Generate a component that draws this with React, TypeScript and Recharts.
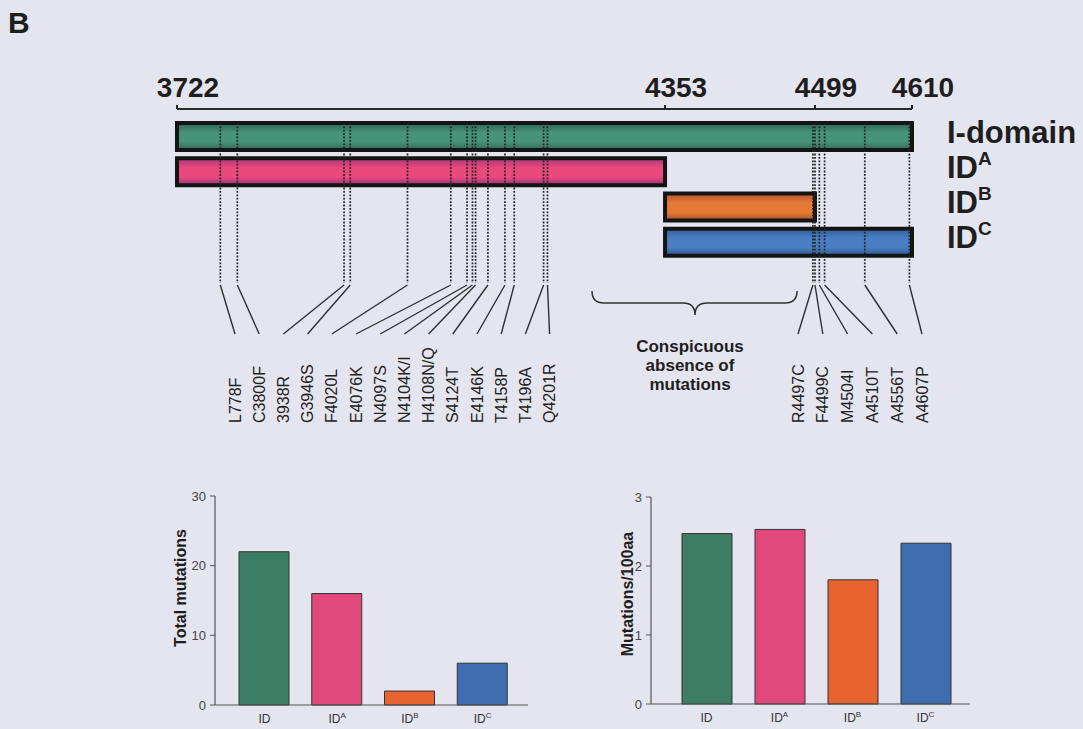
import React from 'react';
import * as Recharts from 'recharts';

const { BarChart, Bar, XAxis, YAxis, Cell } = Recharts;
// newer recharts paints series in z-index layers; put the map annotations above the bars
const ZLayer: any = (Recharts as any).ZIndexLayer;

const FONT = 'Arial, "Liberation Sans", Helvetica, sans-serif';
const PAGE_BG = '#e5e5f0';
const INK = '#1e1e1e';

// I-domain and its three sub-domains (residue numbers)
const domainKeys = ['I-domain', 'IDA', 'IDB', 'IDC'];
const domainBase = ['I-domain', 'ID', 'ID', 'ID'];
const domainSup = ['', 'A', 'B', 'C'];
const domainStart = [3722, 3722, 4353, 4353];
const domainEnd = [4610, 4353, 4499, 4610];
const boundaryTicks = [3722, 4353, 4499, 4610];

// mutations, N-terminal cluster and C-terminal cluster
const leftMutationLabels = ['L778F', 'C3800F', '3938R', 'G3946S', 'F4020L', 'E4076K', 'N4097S', 'N4104K/I', 'H4108N/Q', 'S4124T', 'E4146K', 'T4158P', 'T4196A', 'Q4201R'];
const leftMutationResidues = [3778, 3800, 3938, 3946, 4020, 4076, 4097, 4104, 4108, 4124, 4146, 4158, 4196, 4201];
const rightMutationLabels = ['R4497C', 'F4499C', 'M4504I', 'A4510T', 'A4556T', 'A4607P'];
const rightMutationResidues = [4497, 4499, 4504, 4510, 4556, 4607];

// bar charts
const groupKeys = ['ID', 'IDA', 'IDB', 'IDC'];
const groupSup = ['', 'A', 'B', 'C'];
const totalMutations = [22, 16, 2, 6];
const mutationsPer100aa = [2.47, 2.53, 1.8, 2.33];
const totalTicks = [0, 10, 20, 30];
const densityTicks = [0, 1, 2, 3];

const groupColors = ['#3e7d65', '#e1487b', '#e8632f', '#3f6db0'];
// edge / middle / edge shades for the tube look of the map bars
const tubeShades = [
  ['#2c6453', '#47937a', '#2f6656'],
  ['#a8367a', '#e9497c', '#963576'],
  ['#b8562a', '#e57a37', '#a94f27'],
  ['#2f5f9c', '#4a7ec2', '#2c5890'],
];

// the map is schematic: boundaries sit at fixed fractions of the bar length
const boundaryFractions = [0, 0.664, 0.868, 1];

function schematicScale(knots: number[], fracs: number[]): any {
  let dom = [knots[0], knots[knots.length - 1]];
  let rng = [0, 1];
  const scale: any = (v: number) => {
    let i = 0;
    while (i < knots.length - 2 && v > knots[i + 1]) i++;
    const t = (v - knots[i]) / (knots[i + 1] - knots[i]);
    const f = fracs[i] + t * (fracs[i + 1] - fracs[i]);
    return rng[0] + f * (rng[1] - rng[0]);
  };
  scale.domain = (d?: number[]) => {
    if (!d) return dom.slice();
    dom = d.slice();
    return scale;
  };
  scale.range = (r?: number[]) => {
    if (!r) return rng.slice();
    rng = r.slice();
    return scale;
  };
  scale.copy = () => schematicScale(knots, fracs).domain(dom).range(rng);
  scale.ticks = () => knots.slice();
  return scale;
}

const mapScale = schematicScale(boundaryTicks, boundaryFractions);

const MAP_W = 1083;
const MAP_H = 440;
const MAP_MARGIN = { top: 69, right: 0, bottom: 180, left: 177 };
const MAP_XAXIS_H = 40;
const MAP_YAXIS_W = 171;
const PLOT_LEFT = MAP_MARGIN.left;
const PLOT_RIGHT = MAP_W - MAP_MARGIN.right - MAP_YAXIS_W;

const mapData = domainKeys.map((k, i) => ({ name: k, span: [domainStart[i], domainEnd[i]] }));
const totalData = groupKeys.map((k, i) => ({ name: k, value: totalMutations[i] }));
const densityData = groupKeys.map((k, i) => ({ name: k, value: mutationsPer100aa[i] }));

function OnTop({ children }: { children: React.ReactNode }) {
  return ZLayer ? <ZLayer zIndex={650}>{children}</ZLayer> : <>{children}</>;
}

function BoundaryTick({ x, y, payload }: any) {
  return (
    <text x={x + 11} y={y - 6} textAnchor="middle" fontSize={28} fontWeight="bold" fill={INK} fontFamily={FONT}>
      {payload.value}
    </text>
  );
}

function DomainTick({ x, y, payload }: any) {
  const i = domainKeys.indexOf(payload.value);
  return (
    <text x={x + 27} y={y + 6} fontSize={31} fontWeight="bold" fill={INK} fontFamily={FONT}>
      {domainBase[i]}
      {domainSup[i] && (
        <tspan dy={-13} fontSize={19}>
          {domainSup[i]}
        </tspan>
      )}
    </text>
  );
}

function MutationMap() {
  const x = mapScale.copy().domain([boundaryTicks[0], boundaryTicks[3]]).range([PLOT_LEFT, PLOT_RIGHT]);
  const items = [
    ...leftMutationResidues.map((r, i) => ({ r, label: leftMutationLabels[i], slot: 235 + i * 24.2 })),
    ...rightMutationResidues.map((r, i) => ({ r, label: rightMutationLabels[i], slot: 798 + i * 24.8 })),
  ];
  return (
    <OnTop>
      <g>
        {items.map((m) => (
          <g key={m.label}>
            <line x1={x(m.r)} x2={x(m.r)} y1={123} y2={283} stroke="#222" strokeWidth={1.7} strokeDasharray="1.8 1.6" />
            <line x1={x(m.r)} y1={285} x2={m.slot} y2={334} stroke="#303030" strokeWidth={1.4} />
            <text
              transform={`translate(${m.slot + 5.5}, 423) rotate(-90)`}
              fontSize={16}
              fill="#222"
              fontFamily={FONT}
            >
              {m.label}
            </text>
          </g>
        ))}
        <path
          d="M 592 291 Q 592 303 604 303 L 683 303 Q 695 303 695 315 Q 695 303 707 303 L 785 303 Q 797 303 797 291"
          fill="none"
          stroke="#303030"
          strokeWidth={1.5}
        />
        <text x={690} textAnchor="middle" fontSize={17} fontWeight="bold" fill={INK} fontFamily={FONT}>
          <tspan x={690} y={352}>Conspicuous</tspan>
          <tspan x={690} y={371}>absence of</tspan>
          <tspan x={690} y={390}>mutations</tspan>
        </text>
      </g>
    </OnTop>
  );
}

function GroupTick({ x, y, payload }: any) {
  const i = groupKeys.indexOf(payload.value);
  return (
    <text x={x} y={y + 10} textAnchor="middle" fontSize={12} fill="#333" fontFamily={FONT}>
      ID
      {groupSup[i] && (
        <tspan dy={-5} fontSize={8}>
          {groupSup[i]}
        </tspan>
      )}
    </text>
  );
}

function AxisTitle({ text, cx, cy }: { text: string; cx: number; cy: number }) {
  return (
    <text
      transform={`translate(${cx}, ${cy}) rotate(-90)`}
      textAnchor="middle"
      fontSize={16}
      fontWeight="bold"
      fill={INK}
      fontFamily={FONT}
    >
      {text}
    </text>
  );
}

interface GroupChartProps {
  data: Array<{ name: string; value: number }>;
  ticks: number[];
  title: string;
  titleX: number;
  titleY: number;
  margin: { top: number; right: number; bottom: number; left: number };
  padding: { left: number; right: number };
  width: number;
}

function GroupChart({ data, ticks, title, titleX, titleY, margin, padding, width }: GroupChartProps) {
  return (
    <BarChart width={width} height={249} data={data} margin={margin}>
      <XAxis
        dataKey="name"
        padding={padding}
        tickLine={false}
        axisLine={{ stroke: '#555', strokeWidth: 1.2 }}
        tick={<GroupTick />}
        height={20}
        interval={0}
      />
      <YAxis
        domain={[ticks[0], ticks[ticks.length - 1]]}
        ticks={ticks}
        width={45}
        tickSize={5}
        tickMargin={4}
        tick={{ fontSize: 13, fill: '#444', fontFamily: FONT }}
        tickLine={{ stroke: '#555' }}
        axisLine={{ stroke: '#555', strokeWidth: 1.2 }}
      />
      <Bar dataKey="value" barSize={50} stroke="#333" strokeWidth={1} isAnimationActive={false}>
        {data.map((entry, index) => (
          <Cell key={`cell-${entry.name}`} fill={groupColors[index]} />
        ))}
      </Bar>
      <AxisTitle text={title} cx={titleX} cy={titleY} />
    </BarChart>
  );
}

export default function App() {
  return (
    <div
      style={{
        position: 'absolute',
        left: 0,
        top: 0,
        width: 1083,
        height: 729,
        background: PAGE_BG,
        overflow: 'hidden',
        fontFamily: FONT,
      }}
    >
      <div style={{ position: 'absolute', left: 8, top: 8, fontSize: 30, fontWeight: 'bold', color: INK, lineHeight: '30px' }}>
        B
      </div>

      <div style={{ position: 'absolute', left: 0, top: 0 }}>
        <BarChart width={MAP_W} height={MAP_H} data={mapData} layout="vertical" margin={MAP_MARGIN}>
          <defs>
            {tubeShades.map((s, i) => (
              <linearGradient key={i} id={`tube-${i}`} x1="0" y1="0" x2="0" y2="1">
                <stop offset="0%" stopColor={s[0]} />
                <stop offset="35%" stopColor={s[1]} />
                <stop offset="70%" stopColor={s[1]} />
                <stop offset="100%" stopColor={s[2]} />
              </linearGradient>
            ))}
          </defs>
          <XAxis
            type="number"
            orientation="top"
            domain={[boundaryTicks[0], boundaryTicks[3]]}
            scale={mapScale}
            ticks={boundaryTicks}
            height={MAP_XAXIS_H}
            tickSize={4}
            tickLine={{ stroke: '#222', strokeWidth: 2 }}
            axisLine={{ stroke: '#2a2a2a', strokeWidth: 2 }}
            tick={<BoundaryTick />}
            interval={0}
          />
          <YAxis
            type="category"
            dataKey="name"
            orientation="right"
            width={MAP_YAXIS_W}
            padding={{ top: 10, bottom: 0 }}
            axisLine={false}
            tickLine={false}
            tick={<DomainTick />}
            interval={0}
          />
          <Bar dataKey="span" barSize={27} stroke="#141414" strokeWidth={4} isAnimationActive={false}>
            {mapData.map((entry, index) => (
              <Cell key={`dom-${entry.name}`} fill={`url(#tube-${index})`} />
            ))}
          </Bar>
          <MutationMap />
        </BarChart>
      </div>

      <div style={{ position: 'absolute', left: 150, top: 480 }}>
        <GroupChart
          data={totalData}
          ticks={totalTicks}
          title="Total mutations"
          titleX={36}
          titleY={108}
          width={390}
          margin={{ top: 16, right: 12, bottom: 4, left: 20 }}
          padding={{ left: 13, right: 9 }}
        />
      </div>

      <div style={{ position: 'absolute', left: 580, top: 480 }}>
        <GroupChart
          data={densityData}
          ticks={densityTicks}
          title="Mutations/100aa"
          titleX={53}
          titleY={114}
          width={400}
          margin={{ top: 17, right: 10, bottom: 5, left: 26 }}
          padding={{ left: 19, right: 8 }}
        />
      </div>
    </div>
  );
}
